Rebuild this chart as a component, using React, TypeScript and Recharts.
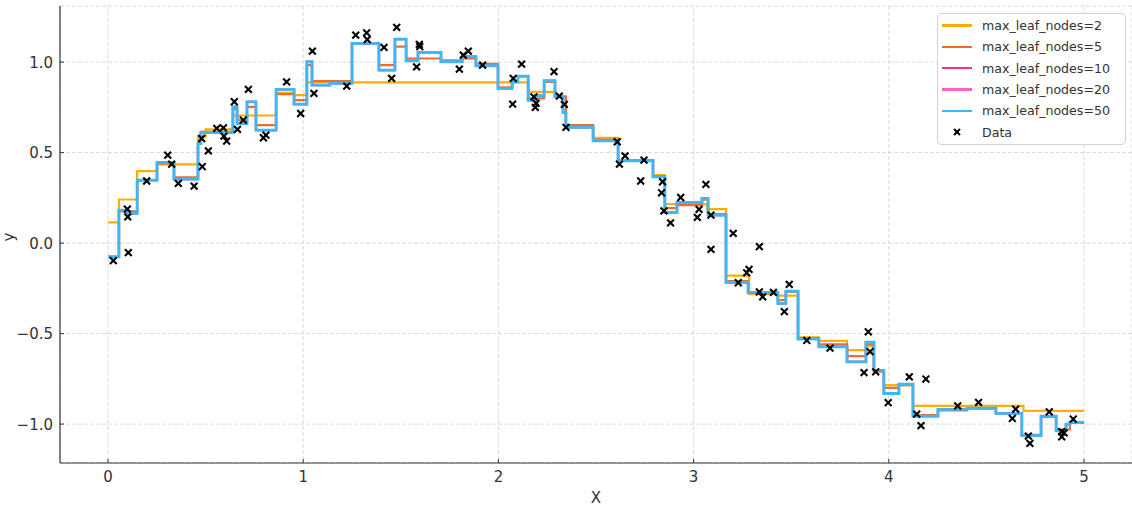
import { ComposedChart, Line, Scatter, XAxis, YAxis, CartesianGrid, Legend } from 'recharts';

// step positions [x start, y], one list per tree
const leaf2Steps: [number, number][] = [
  [0, 0.114], [0.056, 0.241], [0.149, 0.398], [0.251, 0.435], [0.461, 0.59], [0.5, 0.628],
  [0.64, 0.705], [0.861, 0.83], [0.953, 0.818], [1.019, 0.888], [2.152, 0.836], [2.29, 0.81],
  [2.346, 0.652], [2.485, 0.582], [2.613, 0.458], [2.792, 0.376], [2.853, 0.215], [3.07, 0.188],
  [3.166, -0.18], [3.284, -0.282], [3.432, -0.29], [3.535, -0.521], [3.642, -0.54], [3.786, -0.591],
  [3.883, -0.57], [3.924, -0.702], [3.975, -0.785], [4.124, -0.899], [4.69, -0.927],
];

const leaf5Steps: [number, number][] = [
  [0, -0.076], [0.056, 0.175], [0.149, 0.348], [0.251, 0.44], [0.338, 0.363], [0.461, 0.55],
  [0.476, 0.615], [0.64, 0.74], [0.661, 0.68], [0.712, 0.753], [0.758, 0.652], [0.861, 0.823],
  [0.953, 0.79], [1.019, 0.983], [1.045, 0.895], [1.25, 1.103], [1.388, 0.983], [1.47, 1.085],
  [1.527, 1.02], [1.706, 1.01], [1.814, 1.02], [1.885, 0.99], [1.998, 0.86], [2.07, 0.891],
  [2.1, 0.923], [2.152, 0.8], [2.234, 0.89], [2.29, 0.81], [2.346, 0.652], [2.485, 0.572],
  [2.613, 0.458], [2.792, 0.37], [2.853, 0.193], [2.915, 0.21], [3.043, 0.24], [3.074, 0.16],
  [3.166, -0.21], [3.279, -0.275], [3.432, -0.315], [3.473, -0.27], [3.535, -0.525], [3.642, -0.56],
  [3.786, -0.624], [3.883, -0.56], [3.924, -0.71], [3.975, -0.8], [4.052, -0.785], [4.124, -0.95],
  [4.252, -0.925], [4.401, -0.915], [4.549, -0.941], [4.682, -1.06], [4.78, -0.96], [4.857, -1.03],
  [4.928, -0.99],
];

const leaf50Steps: [number, number][] = [
  [0, -0.076], [0.056, 0.182], [0.097, 0.164], [0.149, 0.348], [0.251, 0.446], [0.338, 0.354],
  [0.461, 0.55], [0.476, 0.61], [0.64, 0.753], [0.661, 0.66], [0.712, 0.78], [0.758, 0.624],
  [0.861, 0.849], [0.953, 0.768], [1.019, 1.002], [1.045, 0.873], [1.137, 0.882], [1.25, 1.103],
  [1.388, 0.956], [1.47, 1.127], [1.527, 1.007], [1.588, 1.054], [1.706, 1.002], [1.814, 1.03],
  [1.885, 0.98], [1.998, 0.855], [2.07, 0.891], [2.1, 0.923], [2.152, 0.79], [2.188, 0.814],
  [2.234, 0.897], [2.29, 0.808], [2.331, 0.72], [2.346, 0.639], [2.485, 0.565], [2.613, 0.455],
  [2.792, 0.366], [2.853, 0.17], [2.915, 0.225], [3.043, 0.247], [3.074, 0.155], [3.166, -0.217],
  [3.279, -0.272], [3.432, -0.333], [3.473, -0.265], [3.535, -0.53], [3.642, -0.573], [3.786, -0.656],
  [3.883, -0.547], [3.924, -0.705], [3.975, -0.831], [4.052, -0.779], [4.124, -0.956], [4.252, -0.919],
  [4.401, -0.912], [4.549, -0.941], [4.682, -1.064], [4.78, -0.956], [4.857, -1.037], [4.908, -1.0],
  [4.928, -0.991],
];

// 10 and 20 leaves sit exactly under the 50-leaf line in the picture
const leaf10Steps = leaf50Steps;
const leaf20Steps = leaf50Steps;

const samples: [number, number][] = [
  [0.027, -0.097], [0.104, -0.053], [0.099, 0.188], [0.101, 0.145], [0.198, 0.343], [0.306, 0.486],
  [0.326, 0.436], [0.36, 0.33], [0.441, 0.315], [0.483, 0.422], [0.48, 0.578], [0.514, 0.51],
  [0.557, 0.634], [0.591, 0.637], [0.594, 0.591], [0.608, 0.564], [0.647, 0.781], [0.663, 0.628],
  [0.693, 0.68], [0.719, 0.849], [0.796, 0.582], [0.809, 0.597], [0.915, 0.891], [0.987, 0.716],
  [1.047, 1.061], [1.055, 0.827], [1.223, 0.867], [1.269, 1.149], [1.325, 1.162], [1.328, 1.125],
  [1.414, 1.081], [1.453, 0.91], [1.479, 1.192], [1.581, 0.974], [1.595, 1.098], [1.597, 1.085],
  [1.8, 0.961], [1.82, 1.039], [1.846, 1.061], [1.919, 0.983], [2.076, 0.91], [2.073, 0.768],
  [2.119, 0.989], [2.182, 0.808], [2.193, 0.772], [2.189, 0.75], [2.285, 0.947], [2.312, 0.812],
  [2.338, 0.766], [2.346, 0.639], [2.609, 0.56], [2.649, 0.482], [2.62, 0.436], [2.746, 0.459],
  [2.729, 0.343], [2.841, 0.339], [2.836, 0.278], [2.848, 0.178], [2.882, 0.112], [2.934, 0.252],
  [3.028, 0.186], [3.019, 0.142], [3.063, 0.324], [3.089, 0.155], [3.089, -0.035], [3.203, 0.054],
  [3.337, -0.02], [3.229, -0.219], [3.272, -0.164], [3.284, -0.145], [3.354, -0.297], [3.337, -0.269],
  [3.409, -0.272], [3.465, -0.379], [3.49, -0.228], [3.58, -0.538], [3.699, -0.58], [3.873, -0.716],
  [3.895, -0.49], [3.904, -0.6], [3.933, -0.711], [3.997, -0.882], [4.105, -0.739], [4.19, -0.751],
  [4.143, -0.945], [4.165, -1.009], [4.353, -0.899], [4.46, -0.88], [4.633, -0.969], [4.65, -0.917],
  [4.715, -1.066], [4.723, -1.107], [4.822, -0.932], [4.886, -1.07], [4.886, -1.042], [4.898, -1.048],
  [4.945, -0.972],
];

const xTicks = [0, 1, 2, 3, 4, 5];
const yTicks = [-1, -0.5, 0, 0.5, 1];
const X_END = 5;

const series = [
  { name: 'max_leaf_nodes=2', steps: leaf2Steps, color: '#FFAE00', width: 2.2 },
  { name: 'max_leaf_nodes=5', steps: leaf5Steps, color: '#F26B2E', width: 2.2 },
  { name: 'max_leaf_nodes=10', steps: leaf10Steps, color: '#F0386A', width: 2.2 },
  { name: 'max_leaf_nodes=20', steps: leaf20Steps, color: '#FF63C0', width: 2.2 },
  { name: 'max_leaf_nodes=50', steps: leaf50Steps, color: '#3BB8F5', width: 2.8 },
];

const FONT = '"DejaVu Sans", sans-serif';
const INK = '#333';

function toRows(steps: [number, number][]) {
  const rows = steps.map(([x, y]) => ({ x, y }));
  rows.push({ x: X_END, y: steps[steps.length - 1][1] });
  return rows;
}

const fmt = (v: number) => {
  const s = Math.abs(v).toFixed(1);
  return v < 0 ? '\u2212' + s : s;
};

function XTick({ x, y, payload }: any) {
  return (
    <g>
      <line x1={x} x2={x} y1={y} y2={y - 4} stroke={INK} strokeWidth={1} />
      <text x={x} y={y + 19} textAnchor="middle" fill={INK} fontSize={15} fontFamily={FONT}>
        {payload.value}
      </text>
    </g>
  );
}

function YTick({ x, y, payload }: any) {
  return (
    <g>
      <line x1={x} x2={x + 4} y1={y} y2={y} stroke={INK} strokeWidth={1} />
      <text x={x - 7} y={y + 5.5} textAnchor="end" fill={INK} fontSize={15} fontFamily={FONT}>
        {fmt(payload.value)}
      </text>
    </g>
  );
}

function XMark({ cx, cy }: any) {
  const r = 3.4;
  return (
    <path
      d={`M${cx - r},${cy - r}L${cx + r},${cy + r}M${cx - r},${cy + r}L${cx + r},${cy - r}`}
      stroke="#000"
      strokeWidth={2.1}
      fill="none"
    />
  );
}

function LegendBox() {
  return (
    <div
      style={{
        border: '1px solid #d4d4d4',
        borderRadius: 4,
        background: 'rgba(255,255,255,0.85)',
        padding: '1px 0',
        fontFamily: FONT,
        fontSize: 12.6,
        color: INK,
        boxSizing: 'border-box',
        height: 132,
      }}
    >
      {series.map((s) => (
        <div key={s.name} style={{ display: 'flex', alignItems: 'center', height: 21.3 }}>
          <span style={{ display: 'inline-block', width: 30, height: 2.5, background: s.color, marginLeft: 4, marginRight: 10 }} />
          <span>{s.name}</span>
        </div>
      ))}
      <div style={{ display: 'flex', alignItems: 'center', height: 21.3 }}>
        <svg width={30} height={10} style={{ marginLeft: 4, marginRight: 10 }}>
          <path d="M12,2L18,8M12,8L18,2" stroke="#000" strokeWidth={2} />
        </svg>
        <span>Data</span>
      </div>
    </div>
  );
}

export default function App() {
  const points = samples.map(([x, y]) => ({ x, y }));
  return (
    <div style={{ position: 'relative', width: 1132, height: 510, background: '#fff' }}>
      <style>{'body{margin:0}'}</style>
      <ComposedChart width={1132} height={510} margin={{ top: 6, right: 0, bottom: 0, left: 0 }}>
        <CartesianGrid stroke="#d0d0d0" strokeDasharray="4 2" strokeWidth={0.8} />
        <XAxis
          type="number"
          dataKey="x"
          domain={[-0.246, 5.246]}
          ticks={xTicks}
          allowDataOverflow
          height={47}
          stroke={INK}
          strokeWidth={1.2}
          tickLine={false}
          tickSize={0}
          tickMargin={0}
          tick={<XTick />}
          interval={0}
        />
        <YAxis
          type="number"
          dataKey="y"
          domain={[-1.215, 1.31]}
          ticks={yTicks}
          allowDataOverflow
          width={60}
          stroke={INK}
          strokeWidth={1.2}
          tickLine={false}
          tickSize={0}
          tickMargin={0}
          tick={<YTick />}
          interval={0}
        />
        {series.map((s) => (
          <Line
            key={s.name}
            data={toRows(s.steps)}
            dataKey="y"
            name={s.name}
            type="stepAfter"
            stroke={s.color}
            strokeWidth={s.width}
            dot={false}
            activeDot={false}
            isAnimationActive={false}
          />
        ))}
        <Scatter data={points} dataKey="y" name="Data" shape={<XMark />} isAnimationActive={false} />
        <Legend
          layout="horizontal"
          verticalAlign="middle"
          align="center"
          content={<LegendBox />}
          wrapperStyle={{ top: 13, left: 937, width: 189, height: 132 }}
        />
        <text x={596} y={503} textAnchor="middle" fill={INK} fontSize={15} fontFamily={FONT}>
          X
        </text>
        <text x={14} y={237} textAnchor="middle" fill={INK} fontSize={15} fontFamily={FONT} transform="rotate(-90, 14, 237)">
          y
        </text>
      </ComposedChart>
    </div>
  );
}
